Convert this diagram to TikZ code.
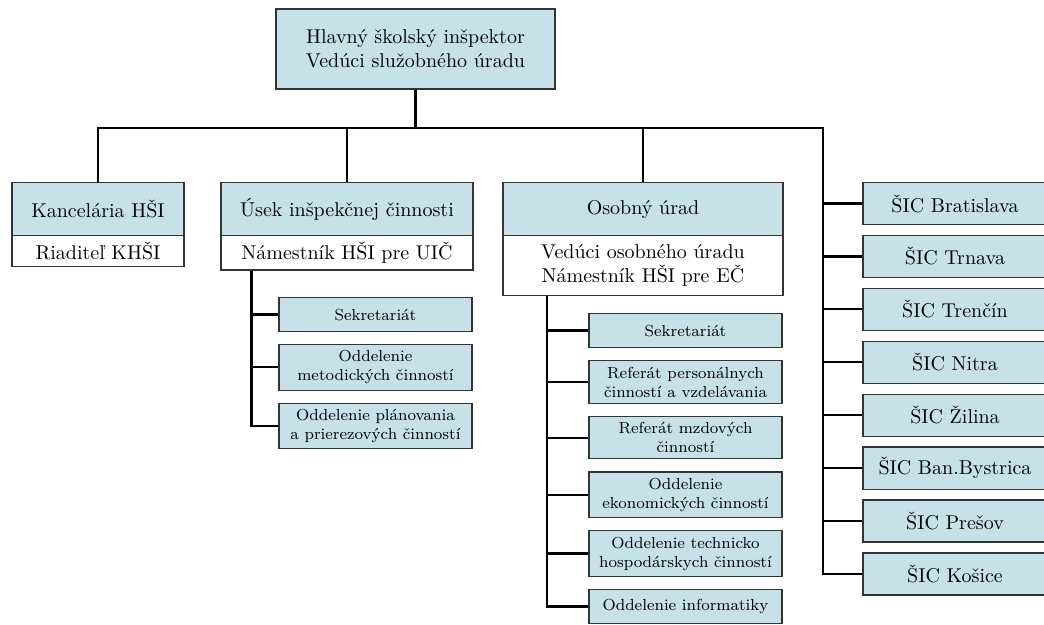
\documentclass[tikz,border=0pt]{standalone}
\usetikzlibrary{positioning}
\definecolor{boxblue}{RGB}{198,225,232}

\begin{document}
\begin{tikzpicture}[node distance=5.9pt,
    every node/.style={align=center,inner sep=3.3pt},
    unit/.style={draw=black!80,line width=0.6pt,fill=boxblue},
    head/.style={unit,minimum height=26.5pt},
    sub/.style={draw=black!80,line width=0.6pt,fill=white},
    dept/.style={unit,font=\footnotesize,minimum width=96.5pt,minimum height=17pt,inner sep=3pt},
    sic/.style={unit,minimum width=92pt,minimum height=21pt},
    link/.style={line width=1.1pt}]

    \useasboundingbox (0,0) rectangle (522pt,-312.5pt);

    \node[unit,minimum width=139.5pt,minimum height=40pt] (hsi) at (207.75pt,-24.5pt)
        {Hlavný školský inšpektor\\Vedúci služobného úradu};
    \coordinate (bus) at (411.5pt,-64pt);

    \node[head,minimum width=86pt,anchor=north]  (k)  at (49pt,-91pt)    {Kancelária HŠI};
    \node[sub,minimum width=86pt]                (k2) [below=-0.6pt of k]   {Riaditeľ KHŠI};
    \node[head,minimum width=126pt,anchor=north] (u)  at (173.5pt,-91pt) {Úsek inšpekčnej činnosti};
    \node[sub,minimum width=126pt]               (u2) [below=-0.6pt of u]   {Námestník HŠI pre UIČ};
    \node[head,minimum width=140pt,anchor=north] (o)  at (321.5pt,-91pt) {Osobný úrad};
    \node[sub,minimum width=140pt,minimum height=30pt] (o2) [below=-0.6pt of o]
        {Vedúci osobného úradu\\Námestník HŠI pre EČ};

    % usek
    \node[dept,anchor=north] (u-1) at (187.75pt,-148.5pt) {Sekretariát};
    \node[dept] (u-2) [below=of u-1] {Oddelenie\\metodických činností};
    \node[dept] (u-3) [below=of u-2] {Oddelenie plánovania\\a prierezových činností};

    % osobny urad
    \node[dept,anchor=north] (o-1) at (342.75pt,-156.5pt) {Sekretariát};
    \node[dept] (o-2) [below=6pt of o-1] {Referát personálnych\\činností a vzdelávania};
    \node[dept] (o-3) [below=6pt of o-2] {Referát mzdových\\činností};
    \node[dept] (o-4) [below=6pt of o-3] {Oddelenie\\ekonomických činností};
    \node[dept] (o-5) [below=6pt of o-4] {Oddelenie technicko\\hospodárskych činností};
    \node[dept] (o-6) [below=6pt of o-5] {Oddelenie informatiky};

    % sic
    \node[sic,anchor=north] (s1) at (477.5pt,-91pt) {ŠIC Bratislava};
    \node[sic] (s2) [below=4.85pt of s1] {ŠIC Trnava};
    \node[sic] (s3) [below=4.85pt of s2] {ŠIC Trenčín};
    \node[sic] (s4) [below=4.85pt of s3] {ŠIC Nitra};
    \node[sic] (s5) [below=4.85pt of s4] {ŠIC Žilina};
    \node[sic] (s6) [below=4.85pt of s5] {ŠIC Ban.Bystrica};
    \node[sic] (s7) [below=4.85pt of s6] {ŠIC Prešov};
    \node[sic] (s8) [below=4.85pt of s7] {ŠIC Košice};

    \coordinate (ubus) at ([xshift=15.5pt]u2.south west);
    \coordinate (obus) at ([xshift=22.25pt]o2.south west);

    \draw[link] (hsi.south) -- (hsi.south |- bus);
    \draw[link] (k.north) |- (bus) |- (s8.west);
    \draw[link] (u.north) -- (u.north |- bus);
    \draw[link] (o.north) -- (o.north |- bus);
    \draw[link] (s1.west) -- (s1.west -| bus);
    \draw[link] (s2.west) -- (s2.west -| bus);
    \draw[link] (s3.west) -- (s3.west -| bus);
    \draw[link] (s4.west) -- (s4.west -| bus);
    \draw[link] (s5.west) -- (s5.west -| bus);
    \draw[link] (s6.west) -- (s6.west -| bus);
    \draw[link] (s7.west) -- (s7.west -| bus);

    \draw[link] (ubus) |- (u-3.west);
    \draw[link] (u-1.west) -- (u-1.west -| ubus);
    \draw[link] (u-2.west) -- (u-2.west -| ubus);

    \draw[link] (obus) |- (o-6.west);
    \draw[link] (o-1.west) -- (o-1.west -| obus);
    \draw[link] (o-2.west) -- (o-2.west -| obus);
    \draw[link] (o-3.west) -- (o-3.west -| obus);
    \draw[link] (o-4.west) -- (o-4.west -| obus);
    \draw[link] (o-5.west) -- (o-5.west -| obus);

\end{tikzpicture}
\end{document}
